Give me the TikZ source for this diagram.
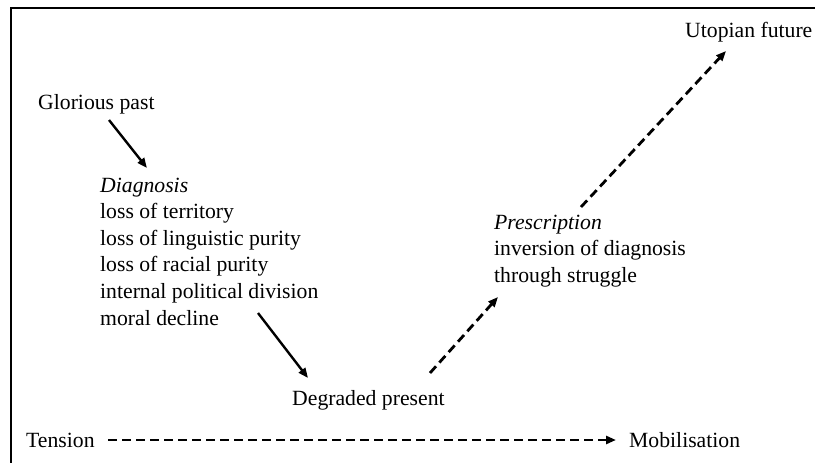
\documentclass[tikz,border=0pt]{standalone}
\usepackage{fontspec}
\setmainfont{Liberation Serif}
\usetikzlibrary{arrows.meta}
\begin{document}
\begin{tikzpicture}[x=1pt,y=-1pt,
  lbl/.style={anchor=base west,inner sep=0pt,font=\fontsize{21.7}{26.6}\selectfont},
  solidarrow/.style={line width=2.4pt,-{Triangle[length=10pt,width=8pt]}},
  dasharrow/.style={line width=2.8pt,dash pattern=on 9pt off 5pt,-{Triangle[length=10pt,width=8pt]}},
  frame/.style={line width=2.2pt}]
\useasboundingbox (0,0) rectangle (815,463);
\fill[white] (0,0) rectangle (815,463);
\draw[frame] (11,463) -- (11,8) -- (815,8);
% text nodes
\node[lbl] (utopia) at (685,37) {Utopian future};
\node[lbl] (past) at (38,109) {Glorious past};
\node[lbl] (diag) at (100,192) {\itshape Diagnosis};
\node[lbl] (d1) at (100,218.6) {loss of territory};
\node[lbl] (d2) at (100,245.2) {loss of linguistic purity};
\node[lbl] (d3) at (100,271.8) {loss of racial purity};
\node[lbl] (d4) at (100,298.4) {internal political division};
\node[lbl] (d5) at (100,325) {moral decline};
\node[lbl] (present) at (292,405) {Degraded present};
\node[lbl] (presc) at (494,229) {\itshape Prescription};
\node[lbl] (p1) at (494,255.6) {inversion of diagnosis};
\node[lbl] (p2) at (494,282.2) {through struggle};
\node[lbl] (tension) at (26,447) {Tension};
\node[lbl] (mobil) at (629,447) {Mobilisation};
% connector end points
\coordinate (a1s) at (109,120);
\coordinate (a1e) at (147,168);
\coordinate (a2s) at (258,313);
\coordinate (a2e) at (308,378);
\coordinate (a3s) at (430,373);
\coordinate (a3e) at (498,297);
\coordinate (a4s) at (581,207);
\coordinate (a4e) at (726,51);
\coordinate (a5s) at (108,440);
\coordinate (a5e) at (616,440);
% connectors
\draw[solidarrow] (a1s) -- (a1e);
\draw[solidarrow] (a2s) -- (a2e);
\draw[dasharrow] (a3s) -- (a3e);
\draw[dasharrow] (a4s) -- (a4e);
\draw[dasharrow] (a5s) -- (a5e);
\end{tikzpicture}
\end{document}
